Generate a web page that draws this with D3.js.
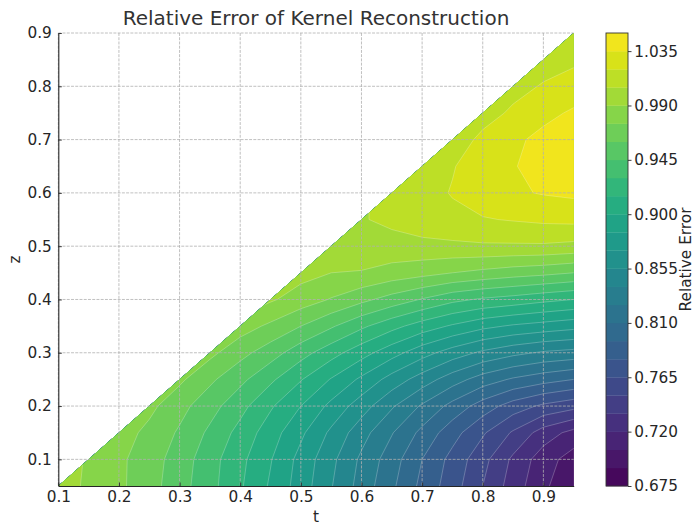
<!DOCTYPE html>
<html>
<head>
<meta charset="utf-8">
<script src="https://cdn.jsdelivr.net/npm/d3@7"></script>
<style>
  body { margin: 0; background: #fff; }
  svg text { font-family: "DejaVu Sans", sans-serif; }
</style>
</head>
<body>
<div id="chart"></div>
<script>
// grid of the contour data: columns are t, rows are z (null = outside z < t)
var tValues = [0.10, 0.15, 0.20, 0.25, 0.30, 0.35, 0.40, 0.45, 0.50, 0.55, 0.60, 0.65, 0.70, 0.75, 0.80, 0.85, 0.90, 0.95];
var zValues = [0.05, 0.10, 0.15, 0.20, 0.25, 0.30, 0.35, 0.40, 0.45, 0.50, 0.55, 0.60, 0.65, 0.70, 0.75, 0.80, 0.85, 0.90];

var _ = null;
var errRows = [
  [0.998, 0.987, 0.978, 0.966, 0.951, 0.935, 0.917, 0.898, 0.878, 0.856, 0.834, 0.813, 0.791, 0.772, 0.750, 0.728, 0.708, 0.693],
  [_, 0.988, 0.978, 0.967, 0.953, 0.936, 0.919, 0.901, 0.880, 0.859, 0.837, 0.817, 0.795, 0.775, 0.755, 0.732, 0.712, 0.698],
  [_, _, 0.982, 0.971, 0.958, 0.942, 0.925, 0.907, 0.888, 0.867, 0.846, 0.826, 0.806, 0.786, 0.767, 0.748, 0.728, 0.715],
  [_, _, _, 0.979, 0.965, 0.951, 0.935, 0.917, 0.900, 0.881, 0.862, 0.842, 0.823, 0.805, 0.788, 0.773, 0.762, 0.755],
  [_, _, _, _, 0.978, 0.963, 0.949, 0.933, 0.916, 0.899, 0.882, 0.864, 0.848, 0.832, 0.818, 0.808, 0.801, 0.795],
  [_, _, _, _, _, 0.979, 0.965, 0.952, 0.936, 0.921, 0.906, 0.891, 0.876, 0.863, 0.852, 0.844, 0.838, 0.835],
  [_, _, _, _, _, _, 0.982, 0.972, 0.960, 0.947, 0.933, 0.920, 0.908, 0.898, 0.889, 0.883, 0.879, 0.875],
  [_, _, _, _, _, _, _, 0.992, 0.983, 0.974, 0.964, 0.954, 0.944, 0.934, 0.928, 0.924, 0.919, 0.915],
  [_, _, _, _, _, _, _, _, 0.995, 0.990, 0.989, 0.984, 0.980, 0.975, 0.971, 0.967, 0.964, 0.960],
  [_, _, _, _, _, _, _, _, _, 1.001, 1.000, 1.000, 1.001, 1.002, 1.003, 1.003, 1.003, 1.001],
  [_, _, _, _, _, _, _, _, _, _, 1.004, 1.008, 1.013, 1.016, 1.019, 1.021, 1.023, 1.024],
  [_, _, _, _, _, _, _, _, _, _, _, 1.008, 1.014, 1.021, 1.028, 1.033, 1.036, 1.038],
  [_, _, _, _, _, _, _, _, _, _, _, _, 1.011, 1.019, 1.028, 1.034, 1.041, 1.044],
  [_, _, _, _, _, _, _, _, _, _, _, _, _, 1.013, 1.023, 1.032, 1.039, 1.043],
  [_, _, _, _, _, _, _, _, _, _, _, _, _, _, 1.015, 1.022, 1.031, 1.037],
  [_, _, _, _, _, _, _, _, _, _, _, _, _, _, _, 1.016, 1.021, 1.027],
  [_, _, _, _, _, _, _, _, _, _, _, _, _, _, _, _, 1.015, 1.017],
  [_, _, _, _, _, _, _, _, _, _, _, _, _, _, _, _, _, 1.010]
];

var xTicks = [0.1, 0.2, 0.3, 0.4, 0.5, 0.6, 0.7, 0.8, 0.9];
var yTicks = [0.1, 0.2, 0.3, 0.4, 0.5, 0.6, 0.7, 0.8, 0.9];
var cbTicks = [0.675, 0.720, 0.765, 0.810, 0.855, 0.900, 0.945, 0.990, 1.035];
var levelMin = 0.675, levelStep = 0.015, levelCount = 25;

var width = 693, height = 526;
var plot = { left: 58.3, right: 573.7, top: 33, bottom: 486 };
var cbar = { left: 606, right: 628 };
var tickFont = 15.3;

var levels = d3.range(levelCount + 1).map(function (k) { return +(levelMin + k * levelStep).toFixed(3); });
var bandColor = function (k) { return d3.interpolateViridis((k + 0.5) / levelCount); };

var svg = d3.select('#chart')
  .append('svg')
  .attr('width', width)
  .attr('height', height);

svg.append('rect').attr('width', width).attr('height', height).attr('fill', '#fff');

var xScale = d3.scaleLinear().domain([0.1, 0.95]).range([plot.left, plot.right]);
var yScale = d3.scaleLinear().domain([0.05, 0.9]).range([plot.bottom, plot.top]);

// pad the masked corner with a plane through the neighbours so the
// cells cut by the diagonal interpolate linearly (they are clipped anyway)
var n = tValues.length, m = zValues.length;
var grid = errRows.map(function (r) { return r.slice(); });
for (var j = 1; j < m; ++j) {
  for (var i = n - 1; i >= 0; --i) {
    if (grid[j][i] == null) {
      grid[j][i] = grid[j - 1][i] + grid[j][i + 1] - grid[j - 1][i + 1];
    }
  }
}
var flat = [];
grid.forEach(function (r) { r.forEach(function (v) { flat.push(v); }); });

var contours = d3.contours()
  .size([n, m])
  .thresholds(levels.slice(0, levelCount))(flat);

var dt = tValues[1] - tValues[0], dz = zValues[1] - zValues[0];
var toPlot = d3.geoTransform({
  point: function (px, py) {
    this.stream.point(xScale(tValues[0] + (px - 0.5) * dt), yScale(zValues[0] + (py - 0.5) * dz));
  }
});
var path = d3.geoPath(toPlot);

// triangle z <= t - 0.05 that holds the data
var tri = [[0.1, 0.05], [0.95, 0.05], [0.95, 0.9]];
svg.append('clipPath')
  .attr('id', 'triClip')
  .append('polygon')
  .attr('points', tri.map(function (p) { return xScale(p[0]) + ',' + yScale(p[1]); }).join(' '));

var field = svg.append('g').attr('clip-path', 'url(#triClip)');

field.selectAll('path.band')
  .data(contours)
  .enter().append('path')
  .attr('class', 'band')
  .attr('d', path)
  .attr('fill', function (d, k) { return bandColor(k); });

field.selectAll('path.edge')
  .data(contours.slice(1))
  .enter().append('path')
  .attr('class', 'edge')
  .attr('d', path)
  .attr('fill', 'none')
  .attr('stroke', 'rgba(255,255,255,0.35)')
  .attr('stroke-width', 0.7);

// dashed grid
var gridG = svg.append('g')
  .attr('stroke', '#b0b0b0')
  .attr('stroke-width', 0.8)
  .attr('stroke-dasharray', '2.96,1.28');

gridG.selectAll('line.gx')
  .data(xTicks)
  .enter().append('line')
  .attr('x1', function (d) { return xScale(d); })
  .attr('x2', function (d) { return xScale(d); })
  .attr('y1', plot.top)
  .attr('y2', plot.bottom);

gridG.selectAll('line.gy')
  .data(yTicks)
  .enter().append('line')
  .attr('y1', function (d) { return yScale(d); })
  .attr('y2', function (d) { return yScale(d); })
  .attr('x1', plot.left)
  .attr('x2', plot.right);

// axes: ticks pointing inward, only left and bottom spines
var xAxis = d3.axisBottom(xScale)
  .tickValues(xTicks)
  .tickFormat(d3.format('.1f'))
  .tickSizeInner(-3.5)
  .tickSizeOuter(0)
  .tickPadding(5.5);

var yAxis = d3.axisLeft(yScale)
  .tickValues(yTicks)
  .tickFormat(d3.format('.1f'))
  .tickSizeInner(-3.5)
  .tickSizeOuter(0)
  .tickPadding(6.5);

var gX = svg.append('g')
  .attr('transform', 'translate(0,' + plot.bottom + ')')
  .call(xAxis);

var gY = svg.append('g')
  .attr('transform', 'translate(' + plot.left + ',0)')
  .call(yAxis);

[gX, gY].forEach(function (g) {
  g.select('.domain').attr('stroke', '#262626').attr('stroke-width', 1.1);
  g.selectAll('.tick line').attr('stroke', '#262626').attr('stroke-width', 0.9);
  g.selectAll('.tick text')
    .attr('fill', '#262626')
    .style('font-size', tickFont + 'px')
    .style('font-family', '"DejaVu Sans", sans-serif');
});

svg.append('text')
  .attr('x', (plot.left + plot.right) / 2)
  .attr('y', 25)
  .attr('text-anchor', 'middle')
  .attr('fill', '#333')
  .style('font-size', '20px')
  .text('Relative Error of Kernel Reconstruction');

svg.append('text')
  .attr('x', (plot.left + plot.right) / 2)
  .attr('y', 522)
  .attr('text-anchor', 'middle')
  .attr('fill', '#262626')
  .style('font-size', tickFont + 'px')
  .text('t');

svg.append('text')
  .attr('transform', 'translate(20,' + ((plot.top + plot.bottom) / 2) + ') rotate(-90)')
  .attr('text-anchor', 'middle')
  .attr('fill', '#262626')
  .style('font-size', tickFont + 'px')
  .text('z');

// colorbar
var cbScale = d3.scaleLinear()
  .domain([levels[0], levels[levelCount]])
  .range([plot.bottom, plot.top]);

var cb = svg.append('g');
cb.selectAll('rect.cbband')
  .data(d3.range(levelCount))
  .enter().append('rect')
  .attr('class', 'cbband')
  .attr('x', cbar.left)
  .attr('width', cbar.right - cbar.left)
  .attr('y', function (k) { return cbScale(levels[k + 1]); })
  .attr('height', function (k) { return cbScale(levels[k]) - cbScale(levels[k + 1]) + 0.3; })
  .attr('fill', function (k) { return bandColor(k); });

cb.append('rect')
  .attr('x', cbar.left)
  .attr('y', plot.top)
  .attr('width', cbar.right - cbar.left)
  .attr('height', plot.bottom - plot.top)
  .attr('fill', 'none')
  .attr('stroke', '#333')
  .attr('stroke-width', 0.9);

var cbAxis = d3.axisRight(cbScale)
  .tickValues(cbTicks)
  .tickFormat(d3.format('.3f'))
  .tickSizeInner(3.5)
  .tickSizeOuter(0)
  .tickPadding(2.8);

var gC = cb.append('g')
  .attr('transform', 'translate(' + cbar.right + ',0)')
  .call(cbAxis);
gC.select('.domain').remove();
gC.selectAll('.tick line').attr('stroke', '#262626').attr('stroke-width', 0.9);
gC.selectAll('.tick text')
  .attr('fill', '#262626')
  .style('font-size', tickFont + 'px')
  .style('font-family', '"DejaVu Sans", sans-serif');

svg.append('text')
  .attr('transform', 'translate(690.5,' + ((plot.top + plot.bottom) / 2) + ') rotate(-90)')
  .attr('text-anchor', 'middle')
  .attr('fill', '#262626')
  .style('font-size', tickFont + 'px')
  .text('Relative Error');
</script>
</body>
</html>
